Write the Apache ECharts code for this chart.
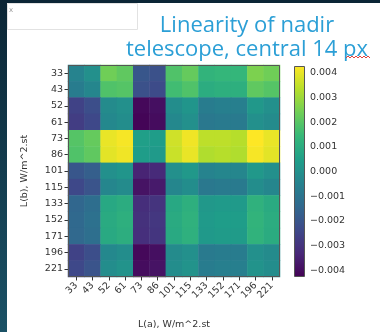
<!DOCTYPE html>
<html><head><meta charset="utf-8">
<script src="https://cdn.jsdelivr.net/npm/echarts@6/dist/echarts.min.js"></script>
<style>html,body{margin:0;padding:0;background:#fff}#c{width:380px;height:332px}</style>
</head><body><div id="c"></div>
<script>
// Column / row categories (L(a) on x, L(b) on y)
const categories = ['33','43','52','61','73','86','101','115','133','152','171','196','221'];
// One array per L(b) row, columns in category order
const row33  = [-0.00043, 0.00000, 0.00239, 0.00214, -0.00196, -0.00214, 0.00188, 0.00222, 0.00128, 0.00137, 0.00137, 0.00256, 0.00239];
const row43  = [-0.00068, -0.00034, 0.00188, 0.00196, -0.00214, -0.00231, 0.00162, 0.00188, 0.00102, 0.00111, 0.00111, 0.00214, 0.00196];
const row52  = [-0.00256, -0.00222, -0.00017, 0.00000, -0.00410, -0.00393, -0.00009, 0.00017, -0.00068, -0.00060, -0.00060, 0.00026, 0.00000];
const row61  = [-0.00273, -0.00239, -0.00026, -0.00009, -0.00418, -0.00401, -0.00026, 0.00000, -0.00085, -0.00077, -0.00077, 0.00000, -0.00017];
const row73  = [0.00196, 0.00222, 0.00401, 0.00418, 0.00051, 0.00043, 0.00367, 0.00410, 0.00342, 0.00342, 0.00333, 0.00427, 0.00401];
const row86  = [0.00188, 0.00214, 0.00393, 0.00410, 0.00043, 0.00034, 0.00359, 0.00401, 0.00325, 0.00333, 0.00325, 0.00418, 0.00393];
const row101 = [-0.00196, -0.00171, 0.00000, 0.00017, -0.00342, -0.00325, 0.00000, 0.00026, -0.00043, -0.00034, -0.00034, 0.00026, 0.00000];
const row115 = [-0.00239, -0.00205, -0.00034, -0.00017, -0.00384, -0.00367, -0.00034, -0.00009, -0.00085, -0.00077, -0.00077, -0.00009, -0.00034];
const row133 = [-0.00145, -0.00120, 0.00085, 0.00102, -0.00316, -0.00299, 0.00085, 0.00111, 0.00026, 0.00034, 0.00034, 0.00120, 0.00094];
const row152 = [-0.00137, -0.00111, 0.00094, 0.00111, -0.00307, -0.00290, 0.00094, 0.00120, 0.00034, 0.00043, 0.00043, 0.00128, 0.00102];
const row171 = [-0.00140, -0.00115, 0.00089, 0.00106, -0.00312, -0.00295, 0.00089, 0.00115, 0.00030, 0.00038, 0.00038, 0.00124, 0.00098];
const row196 = [-0.00256, -0.00222, -0.00026, -0.00009, -0.00410, -0.00393, -0.00017, 0.00000, -0.00077, -0.00068, -0.00068, 0.00000, -0.00017];
const row221 = [-0.00239, -0.00205, -0.00009, 0.00009, -0.00401, -0.00384, -0.00009, 0.00009, -0.00068, -0.00060, -0.00060, 0.00009, -0.00009];
const rows = [row33,row43,row52,row61,row73,row86,row101,row115,row133,row152,row171,row196,row221];
const colorMin = -0.00427, colorMax = 0.00427;

const viridis = ['#440154','#482878','#3e4989','#31688e','#26828e','#1f9e89','#35b779','#6ece58','#b5de2b','#fde725'];

const data = [];
rows.forEach((r, i) => r.forEach((v, j) => data.push([j, i, v])));

const FONT = 'DejaVu Sans';
const chart = echarts.init(document.getElementById('c'), null, {renderer: 'canvas'});
chart.setOption({
  backgroundColor: '#ffffff',
  animation: false,
  title: {
    text: 'Linearity of nadir\ntelescope, central 14 px',
    left: 242, top: 9, textAlign: 'center',
    textStyle: {color: '#2b9fd6', fontSize: 22, lineHeight: 24, fontWeight: 'normal', fontFamily: 'Open Sans'}
  },
  grid: [
    {left: 68, top: 65, width: 212, height: 212, containLabel: false, outerBoundsMode: 'none'},
    {left: 294, top: 66, width: 11, height: 211, outerBoundsMode: 'none'}
  ],
  xAxis: [
    {type: 'category', data: categories, gridIndex: 0,
     name: 'L(a), W/m^2.st', nameLocation: 'middle', nameGap: 43,
     nameTextStyle: {fontFamily: FONT, fontSize: 9.5, color: '#333'},
     axisLine: {show: false},
     axisTick: {show: true, alignWithLabel: true, length: 3.5, lineStyle: {color: '#333'}},
     axisLabel: {show: true, rotate: 45, hideOverlap: false, fontFamily: FONT, fontSize: 9.5, color: '#333', margin: 7, interval: 0},
     splitLine: {show: false}},
    {type: 'value', gridIndex: 1, show: false}
  ],
  yAxis: [
    {type: 'category', data: categories, gridIndex: 0, inverse: true,
     name: 'L(b), W/m^2.st', nameLocation: 'middle', nameGap: 38, nameRotate: 90,
     nameTextStyle: {fontFamily: FONT, fontSize: 9.5, color: '#333'},
     axisLine: {show: false},
     axisTick: {show: true, alignWithLabel: true, length: 3.5, lineStyle: {color: '#333'}},
     axisLabel: {fontFamily: FONT, fontSize: 9.5, color: '#333', margin: 5, interval: 0},
     splitLine: {show: false}},
    {type: 'value', gridIndex: 1, position: 'right', min: colorMin, max: colorMax, splitNumber: 8,
     axisLine: {show: false}, splitLine: {show: false},
     axisTick: {show: true, length: 3.5, lineStyle: {color: '#333'}},
     axisLabel: {fontFamily: FONT, fontSize: 9.5, color: '#333', margin: 5,
       showMinLabel: false, showMaxLabel: false,
       formatter: v => (v < 0 ? '\u2212' : '') + Math.abs(v).toFixed(3)}}
  ],
  visualMap: {
    type: 'continuous', min: colorMin, max: colorMax, seriesIndex: 0,
    left: 294, top: 66, itemWidth: 11, itemHeight: 211, padding: 0,
    calculable: false, hoverLink: false, text: null, showLabel: false,
    inRange: {color: viridis}
  },
  series: [{
    type: 'heatmap', xAxisIndex: 0, yAxisIndex: 0, data: data,
    itemStyle: {borderWidth: 0}, emphasis: {disabled: true}
  }],
  graphic: [
    {type: 'rect', z: 100, shape: {x: 0, y: 0, width: 7, height: 332},
     style: {fill: new echarts.graphic.LinearGradient(0, 0, 0, 1, [{offset: 0, color: '#0b2535'}, {offset: 1, color: '#1b5266'}])}},
    {type: 'rect', z: 100, shape: {x: 0, y: 0, width: 380, height: 3}, style: {fill: '#0b2535'}},
    {type: 'rect', z: 100, shape: {x: 7.5, y: 3.5, width: 130, height: 26}, style: {fill: '#fff', stroke: '#e2e2e2', lineWidth: 1}},
    {type: 'text', z: 101, left: 9, top: 7, style: {text: 'x', fill: '#999', fontSize: 7, fontFamily: FONT}},
    {type: 'rect', z: 100, shape: {x: 68.5, y: 65.5, width: 211, height: 211}, style: {fill: null, stroke: '#555', lineWidth: 1}},
    {type: 'rect', z: 100, shape: {x: 294.5, y: 66.5, width: 10, height: 210}, style: {fill: null, stroke: '#555', lineWidth: 1}},
    {type: 'polyline', z: 100, shape: {points: [[346,58],[348,56],[350,58],[352,56],[354,58],[356,56],[358,58],[360,56],[362,58],[364,56],[366,58],[368,56],[370,58]]},
     style: {stroke: '#e0413a', lineWidth: 1, fill: null}}
  ]
});
</script></body></html>
